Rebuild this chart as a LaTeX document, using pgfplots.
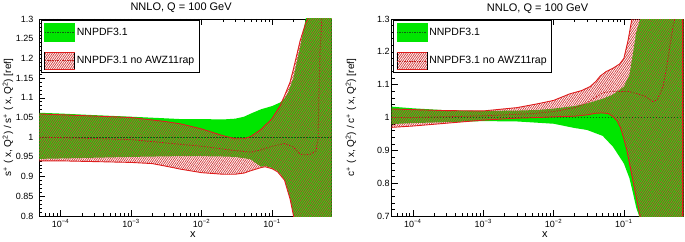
\documentclass[border=0pt]{standalone}
\usepackage{fontspec}
\setmainfont{Liberation Sans}
\usepackage{pgfplots}
\usepackage{pgfplotstable}
\pgfplotsset{compat=1.18}
\usepgfplotslibrary{fillbetween}
\usetikzlibrary{patterns.meta}

\definecolor{bandgreen}{RGB}{0,230,0}
\definecolor{greenline}{RGB}{20,90,20}
\definecolor{bandred}{RGB}{222,30,30}
\definecolor{hatchred}{RGB}{210,60,60}
\definecolor{redline}{RGB}{195,30,30}

% ---------- s+ panel ----------
\pgfplotstableread{
x y
5e-5 1.062
1e-4 1.060
3e-4 1.056
1e-3 1.052
3e-3 1.048
5e-3 1.046
0.01 1.046
0.02 1.045
0.03 1.047
0.04 1.052
0.05 1.060
0.07 1.071
0.1 1.079
0.13 1.088
0.15 1.097
0.17 1.115
0.2 1.150
0.25 1.230
0.3 1.300
0.4 1.50
0.7 2.00
}\sGU
\pgfplotstableread{
x y
5e-5 0.945
1e-4 0.946
1e-3 0.950
5e-3 0.952
0.01 0.952
0.02 0.951
0.03 0.950
0.05 0.944
0.06 0.933
0.07 0.925
0.08 0.927
0.1 0.922
0.12 0.914
0.15 0.893
0.18 0.845
0.2 0.805
0.25 0.70
0.7 0.0
}\sGL
\pgfplotstableread{
x y
5e-5 1.059
1e-4 1.057
1e-3 1.050
3e-3 1.040
5e-3 1.034
0.01 1.021
0.02 1.004
0.03 0.996
0.04 0.996
0.05 1.002
0.07 1.020
0.1 1.047
0.13 1.080
0.15 1.105
0.18 1.140
0.2 1.172
0.25 1.245
0.3 1.290
0.32 1.300
0.4 1.45
0.7 2.0
}\sHU
\pgfplotstableread{
x y
5e-5 0.940
1e-4 0.940
1e-3 0.936
2e-3 0.933
3e-3 0.927
5e-3 0.919
0.01 0.910
0.02 0.906
0.03 0.906
0.04 0.909
0.05 0.915
0.07 0.923
0.08 0.925
0.1 0.920
0.12 0.912
0.15 0.891
0.18 0.843
0.2 0.803
0.25 0.70
0.7 0.0
}\sHL
\pgfplotstableread{
x y
5e-5 1.000
1e-4 0.999
1e-3 0.994
5e-3 0.982
0.01 0.977
0.03 0.966
0.05 0.962
0.07 0.968
0.1 0.977
0.15 0.984
0.2 0.975
0.25 0.957
0.3 0.955
0.35 0.957
0.42 0.965
0.45 1.000
0.46 1.100
0.48 1.220
0.51 1.310
}\sHC

% ---------- c+ panel ----------
\pgfplotstableread{
x y
5e-5 1.033
1e-4 1.028
3e-4 1.022
1e-3 1.020
3e-3 1.021
6e-3 1.023
0.01 1.027
0.02 1.035
0.03 1.043
0.05 1.057
0.07 1.070
0.1 1.094
0.12 1.130
0.135 1.196
0.15 1.260
0.17 1.300
0.2 1.5
0.7 2.0
}\cGU
\pgfplotstableread{
x y
5e-5 0.980
1e-4 0.983
1e-3 0.989
3e-3 0.988
6e-3 0.984
0.01 0.981
0.02 0.968
0.03 0.962
0.05 0.944
0.07 0.911
0.1 0.860
0.12 0.815
0.135 0.769
0.15 0.725
0.165 0.700
0.2 0.5
0.7 0.0
}\cGL
\pgfplotstableread{
x y
5e-5 1.026
1e-4 1.024
3e-4 1.021
1e-3 1.020
3e-3 1.030
6e-3 1.042
0.01 1.052
0.017 1.072
0.025 1.082
0.033 1.094
0.04 1.110
0.046 1.126
0.056 1.140
0.07 1.150
0.087 1.163
0.1 1.180
0.115 1.236
0.125 1.280
0.13 1.300
0.2 1.6
0.7 2.0
}\cHU
\pgfplotstableread{
x y
5e-5 0.970
1e-4 0.974
1e-3 0.992
3e-3 0.998
6e-3 1.000
0.01 1.002
0.02 1.004
0.03 1.008
0.04 1.013
0.05 1.014
0.06 1.012
0.07 1.003
0.08 0.990
0.09 0.968
0.1 0.935
0.11 0.901
0.14 0.789
0.17 0.700
0.2 0.5
0.7 0.0
}\cHL
\pgfplotstableread{
x y
5e-5 1.000
1e-4 1.000
1e-3 1.005
5e-3 1.012
0.01 1.018
0.02 1.030
0.03 1.045
0.05 1.075
0.07 1.080
0.1 1.079
0.12 1.079
0.2 1.065
0.26 1.048
0.3 1.055
0.36 1.094
0.4 1.145
0.45 1.216
0.5 1.277
0.53 1.300
}\cHC
\pgfplotstableread{
x y
5e-5 1.0
0.7 1.0
}\unity

\tikzset{
  hatchfill/.style={pattern={Lines[angle=55,distance=1.8pt,line width=0.75pt]}, pattern color=hatchred},
}
\newcommand{\legimgA}{%
  \fill[bandgreen] (0pt,-9pt) rectangle (30pt,9pt);
  \draw[greenline, line width=0.5pt, dash pattern=on 1.5pt off 1pt] (0pt,0pt) -- (30pt,0pt);}
\newcommand{\legimgB}{%
  \fill[hatchfill] (0pt,-8.5pt) rectangle (30pt,8.5pt);
  \draw[bandred, line width=0.8pt] (0pt,-8.5pt) -- (30pt,-8.5pt) (0pt,8.5pt) -- (30pt,8.5pt);
  \draw[redline, line width=0.6pt, dash pattern=on 1.5pt off 1pt] (0pt,0pt) -- (30pt,0pt);}

\pgfplotsset{
  every axis/.append style={
    scale only axis,
    xmin=5e-5, xmax=0.7,
    xtick={1e-4,1e-3,1e-2,1e-1},
    xticklabels={10\textsuperscript{−4},10\textsuperscript{−3},10\textsuperscript{−2},10\textsuperscript{−1}},
    minor xtick={6e-5,7e-5,8e-5,9e-5,2e-4,3e-4,4e-4,5e-4,6e-4,7e-4,8e-4,9e-4,2e-3,3e-3,4e-3,5e-3,6e-3,7e-3,8e-3,9e-3,0.02,0.03,0.04,0.05,0.06,0.07,0.08,0.09,0.2,0.3,0.4,0.5,0.6},
    minor y tick num=4,
    tick align=inside,
    major tick length=6pt, minor tick length=3pt,
    every tick/.style={black, line width=0.5pt},
    axis line style={line width=0.7pt},
    tick label style={font=\fontsize{9}{10}\selectfont},
    yticklabel style={/pgf/number format/assume math mode=true, /pgf/number format/fixed},
    title style={font=\fontsize{11}{13}\selectfont, anchor=base, yshift=2pt},
    title={NNLO, Q = 100 GeV},
    xlabel={x},
    xlabel style={font=\fontsize{11}{13}\selectfont, at={(axis description cs:0.525,0)}, anchor=base, yshift=-21pt},
    ylabel style={font=\fontsize{10}{12}\selectfont, anchor=center},
    legend style={at={(0,1)}, anchor=north west, xshift=1.5pt, yshift=-1pt,
      draw=black, line width=0.6pt, fill=white,
      font=\fontsize{10.5}{12}\selectfont,
      inner xsep=3pt, inner ysep=3pt, row sep=10pt},
    legend cell align=left,
  },
}

\begin{document}
\begin{tikzpicture}

% ================= left panel =================
\begin{semilogxaxis}[
  at={(39.3pt,25pt)}, anchor=south west,
  width=292.4pt, height=197pt,
  ymin=0.8, ymax=1.3, ytick={0.8,0.85,...,1.31},
  yticklabel style={xshift=-2.5pt},
  title style={at={(0.485,1)}},
  ylabel={s\textsuperscript{+} ( x, Q\textsuperscript{2}) / s\textsuperscript{+} ( x, Q\textsuperscript{2}) [ref]},
  ylabel style={at={(axis description cs:-0.107,0.5)}},
]
\addlegendimage{legend image code/.code={\legimgA}}
\addlegendentry{NNPDF3.1}
\addlegendimage{legend image code/.code={\legimgB}}
\addlegendentry{NNPDF3.1 no AWZ11rap\hspace{5pt}}

\addplot[name path=sgu, draw=none, forget plot] table {\sGU};
\addplot[name path=sgl, draw=none, forget plot] table {\sGL};
\addplot[name path=shu, draw=none, forget plot] table {\sHU};
\addplot[name path=shl, draw=none, forget plot] table {\sHL};
\addplot[bandgreen, forget plot] fill between[of=sgu and sgl];
\addplot[hatchfill, forget plot] fill between[of=shu and shl];
\addplot[greenline, line width=0.6pt, dash pattern=on 1.6pt off 1.4pt, forget plot] table {\unity};
\addplot[bandred, line width=0.9pt, forget plot] table {\sHU};
\addplot[bandred, line width=0.9pt, forget plot] table {\sHL};
\addplot[redline, line width=0.8pt, dash pattern=on 1.6pt off 1.4pt, forget plot] table {\sHC};
\end{semilogxaxis}

% ================= right panel =================
\begin{semilogxaxis}[
  at={(391.7pt,25pt)}, anchor=south west,
  width=291.6pt, height=197pt,
  ymin=0.7, ymax=1.3, ytick={0.7,0.8,...,1.31},
  yticklabel style={xshift=1.5pt},
  title style={at={(0.5,1)}},
  ylabel={c\textsuperscript{+} ( x, Q\textsuperscript{2}) / c\textsuperscript{+} ( x, Q\textsuperscript{2}) [ref]},
  ylabel style={at={(axis description cs:-0.1396,0.5)}},
]
\addlegendimage{legend image code/.code={\legimgA}}
\addlegendentry{NNPDF3.1}
\addlegendimage{legend image code/.code={\legimgB}}
\addlegendentry{NNPDF3.1 no AWZ11rap\hspace{5pt}}

\addplot[name path=cgu, draw=none, forget plot] table {\cGU};
\addplot[name path=cgl, draw=none, forget plot] table {\cGL};
\addplot[name path=chu, draw=none, forget plot] table {\cHU};
\addplot[name path=chl, draw=none, forget plot] table {\cHL};
\addplot[bandgreen, forget plot] fill between[of=cgu and cgl];
\addplot[hatchfill, forget plot] fill between[of=chu and chl];
\addplot[greenline, line width=0.6pt, dash pattern=on 1.6pt off 1.4pt, forget plot] table {\unity};
\addplot[bandred, line width=0.9pt, forget plot] table {\cHU};
\addplot[bandred, line width=0.9pt, forget plot] table {\cHL};
\addplot[redline, line width=0.8pt, dash pattern=on 1.6pt off 1.4pt, forget plot] table {\cHC};
\addplot[bandred, line width=1.6pt, forget plot] coordinates {(0.69,0.7) (0.69,1.3)};
\end{semilogxaxis}

\pgfresetboundingbox
\useasboundingbox (0pt,0pt) rectangle (685pt,241pt);
\end{tikzpicture}
\end{document}
